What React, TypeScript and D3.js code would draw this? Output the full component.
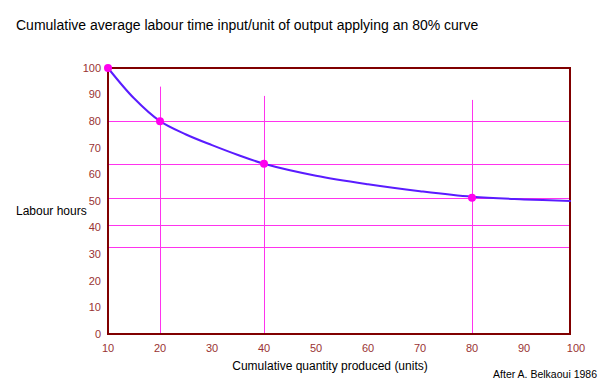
import React from "react"
import * as d3 from "d3"

// values
const curveX = [10, 15, 20, 25, 30, 35, 40, 50, 60, 70, 80, 90, 99]
const curveY = [100, 88.6, 80, 75, 71, 67.3, 64, 59.5, 56.3, 53.7, 51.6, 50.6, 50]
const markX = [10, 20, 40, 80]
const markY = [100, 80, 64, 51.2]
const hLines = [80, 64, 51.2, 40.96, 32.77]
const vLines = [20, 40, 80]
const vLineTops = [93, 89.5, 88]
const xTicks = [10, 20, 30, 40, 50, 60, 70, 80, 90, 100]
const yTicks = [0, 10, 20, 30, 40, 50, 60, 70, 80, 90, 100]

const W = 606
const H = 385
const frame = { left: 108, right: 570, top: 68, bottom: 334 }
const FONT = "Arial, 'Liberation Sans', sans-serif"
const darkRed = "#800000"
const tickRed = "#993333"
const grid = "#ff33ee"

export default function App() {
  const x = d3.scaleLinear().domain([10, 100]).range([frame.left, 576])
  const y = d3.scaleLinear().domain([0, 100]).range([frame.bottom, frame.top])

  const line = d3
    .line<number>()
    .x((d) => x(d))
    .y((_, i) => y(curveY[i]))
    .curve(d3.curveCatmullRom.alpha(0.5))

  return (
    <div style={{ position: "absolute", left: 0, top: 0 }}>
      <svg width={W} height={H} style={{ display: "block", background: "#fff" }} fontFamily={FONT}>
        <text x={16} y={30} fontSize={14} fill="#000">
          Cumulative average labour time input/unit of output applying an 80% curve
        </text>

        {/* grid */}
        {hLines.map((v) => (
          <line key={"h" + v} x1={frame.left} x2={frame.right} y1={Math.round(y(v)) + 0.5} y2={Math.round(y(v)) + 0.5} stroke={grid} strokeWidth={1} />
        ))}
        {vLines.map((v, i) => (
          <line key={"v" + v} x1={Math.round(x(v)) + 0.5} x2={Math.round(x(v)) + 0.5} y1={y(vLineTops[i])} y2={frame.bottom} stroke={grid} strokeWidth={1} />
        ))}

        {/* frame */}
        <rect x={frame.left} y={frame.top} width={frame.right - frame.left} height={frame.bottom - frame.top} fill="none" stroke={darkRed} strokeWidth={2} />

        {/* curve */}
        <path d={line(curveX) ?? ""} fill="none" stroke="#5a1cff" strokeWidth={2} />
        {markX.map((v, i) => (
          <circle key={"m" + v} cx={x(v)} cy={y(markY[i])} r={4} fill="#ff00ee" />
        ))}

        {/* ticks */}
        {yTicks.map((t) => (
          <text key={"yt" + t} x={101} y={y(t)} dy="0.35em" textAnchor="end" fontSize={11} fill={tickRed}>
            {t}
          </text>
        ))}
        {xTicks.map((t) => (
          <text key={"xt" + t} x={x(t)} y={352} textAnchor="middle" fontSize={11} fill={tickRed}>
            {t}
          </text>
        ))}

        <text x={16} y={215} fontSize={12} fill="#000">Labour hours</text>
        <text x={330} y={370} textAnchor="middle" fontSize={12} fill="#000">
          Cumulative quantity produced (units)
        </text>
        <text x={597} y={378} textAnchor="end" fontSize={10.5} fill="#000">
          After A. Belkaoui 1986
        </text>
      </svg>
    </div>
  )
}
